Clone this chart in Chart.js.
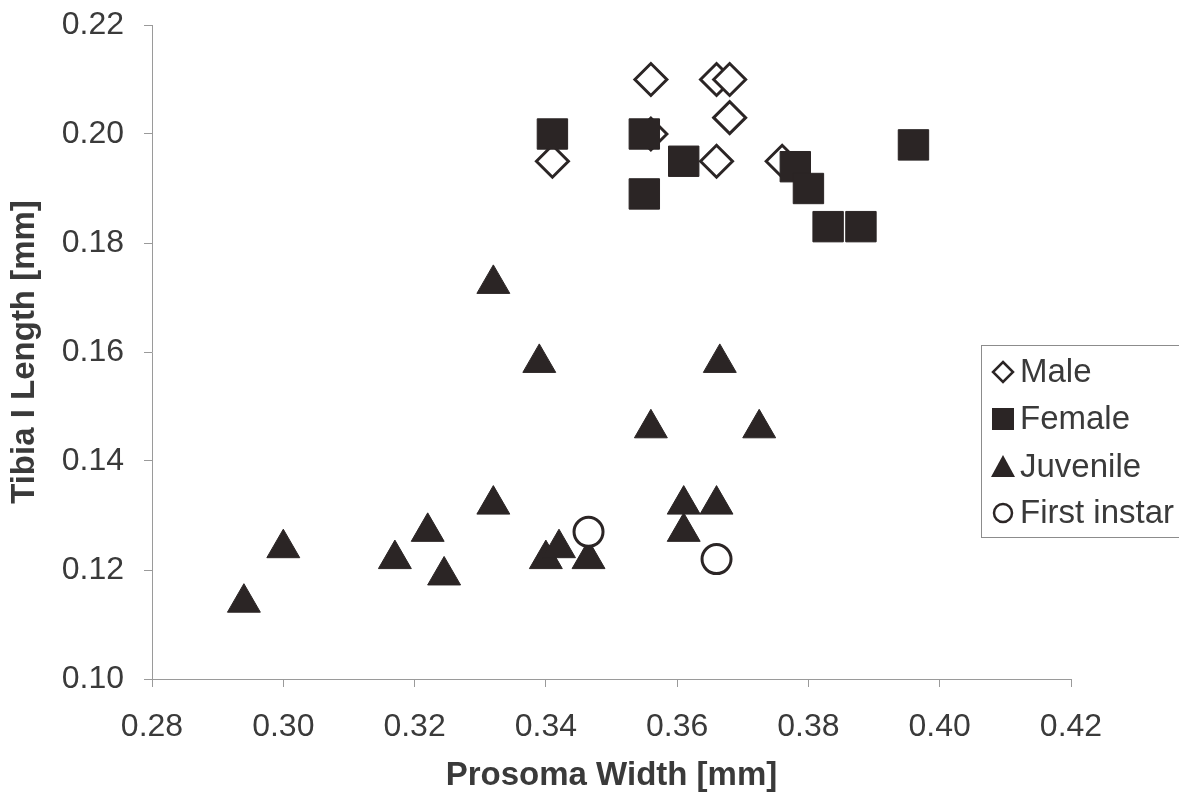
<!DOCTYPE html>
<html>
<head>
<meta charset="utf-8">
<title>Prosoma width vs tibia I length</title>
<script src="https://cdn.jsdelivr.net/npm/chart.js@4.4.0/dist/chart.umd.min.js"></script>
<style>
  html, body { margin: 0; padding: 0; background: #fff; }
  #wrap { width: 1179px; height: 801px; }
</style>
</head>
<body>
<div id="wrap"><canvas id="myChart" width="1179" height="801"></canvas></div>
<script>
// values (mm)
const maleX = [0.356, 0.366, 0.368, 0.368, 0.356, 0.341, 0.366, 0.376];
const maleY = [0.210, 0.210, 0.210, 0.203, 0.200, 0.195, 0.195, 0.195];

const femaleX = [0.341, 0.355, 0.361, 0.355, 0.378, 0.380, 0.383, 0.388, 0.396];
const femaleY = [0.200, 0.200, 0.195, 0.189, 0.194, 0.190, 0.183, 0.183, 0.198];

const juvenileX = [0.294, 0.300, 0.317, 0.322, 0.3245, 0.332, 0.332, 0.339, 0.340,
  0.342, 0.3465, 0.356, 0.361, 0.361, 0.366, 0.3665, 0.3725];
const juvenileY = [0.114, 0.124, 0.122, 0.127, 0.119, 0.1725, 0.132, 0.158, 0.122,
  0.124, 0.122, 0.146, 0.132, 0.127, 0.132, 0.158, 0.146];

const firstInstarX = [0.3465, 0.366];
const firstInstarY = [0.127, 0.122];

const seriesNames = ['Male', 'Female', 'Juvenile', 'First instar'];
const xTitle = 'Prosoma Width [mm]';
const yTitle = 'Tibia I Length [mm]';

const ink = '#2b2525';
const textColor = '#3a3a3a';
const axisColor = '#9a9a9a';
const fontFamily = '"Liberation Sans", Arial, sans-serif';

function toPoints(xs, ys) {
  return xs.map((x, i) => ({ x: x, y: ys[i] }));
}

// boxed legend sitting over the right side of the plot
const boxLegend = {
  id: 'boxLegend',
  afterDraw(chart) {
    const ctx = chart.ctx;
    const left = 981, top = 345, right = 1190, bottom = 537;
    ctx.save();
    ctx.fillStyle = '#fff';
    ctx.strokeStyle = '#8c8c8c';
    ctx.lineWidth = 1;
    ctx.fillRect(left, top, right - left, bottom - top);
    ctx.strokeRect(left + 0.5, top + 0.5, right - left, bottom - top);

    const rows = [372, 419, 467, 513];
    const mx = 1003;
    ctx.font = '33px ' + fontFamily;
    ctx.textBaseline = 'middle';
    ctx.fillStyle = textColor;
    seriesNames.forEach((name, i) => {
      const y = rows[i];
      ctx.beginPath();
      if (i === 0) {
        ctx.moveTo(mx, y - 10); ctx.lineTo(mx + 10, y); ctx.lineTo(mx, y + 10); ctx.lineTo(mx - 10, y);
        ctx.closePath();
        ctx.fillStyle = '#fff'; ctx.fill();
        ctx.strokeStyle = ink; ctx.lineWidth = 2.5; ctx.stroke();
      } else if (i === 1) {
        ctx.fillStyle = ink;
        ctx.fillRect(mx - 11, y - 11, 22, 22);
      } else if (i === 2) {
        ctx.moveTo(mx, y - 12); ctx.lineTo(mx + 12, y + 10); ctx.lineTo(mx - 12, y + 10);
        ctx.closePath();
        ctx.fillStyle = ink; ctx.fill();
      } else {
        ctx.arc(mx, y, 9, 0, Math.PI * 2);
        ctx.fillStyle = '#fff'; ctx.fill();
        ctx.strokeStyle = ink; ctx.lineWidth = 2.5; ctx.stroke();
      }
      ctx.fillStyle = textColor;
      ctx.fillText(name, 1020, y + 1);
    });
    ctx.restore();
  }
};

const ctx = document.getElementById('myChart').getContext('2d');
new Chart(ctx, {
  type: 'scatter',
  data: {
    datasets: [
      {
        label: seriesNames[0],
        data: toPoints(maleX, maleY),
        pointStyle: 'rectRot',
        pointRadius: 16,
        backgroundColor: '#fff',
        borderColor: ink,
        borderWidth: 3,
        order: 4
      },
      {
        label: seriesNames[1],
        data: toPoints(femaleX, femaleY),
        pointStyle: 'rect',
        pointRadius: 21.5,
        backgroundColor: ink,
        borderColor: ink,
        borderWidth: 1,
        order: 3
      },
      {
        label: seriesNames[2],
        data: toPoints(juvenileX, juvenileY),
        pointStyle: 'triangle',
        pointRadius: 19,
        backgroundColor: ink,
        borderColor: ink,
        borderWidth: 1,
        order: 2
      },
      {
        label: seriesNames[3],
        data: toPoints(firstInstarX, firstInstarY),
        pointStyle: 'circle',
        pointRadius: 14.5,
        backgroundColor: '#fff',
        borderColor: ink,
        borderWidth: 3,
        order: 1
      }
    ]
  },
  options: {
    responsive: false,
    animation: false,
    events: [],
    layout: { padding: { left: 0, right: 108, top: 25, bottom: 0 } },
    plugins: {
      legend: { display: false },
      tooltip: { enabled: false }
    },
    scales: {
      x: {
        type: 'linear',
        min: 0.28,
        max: 0.42,
        afterFit(scale) {
          scale.height = 122;
          scale.paddingLeft = 0;
          scale.paddingRight = 0;
        },
        ticks: {
          stepSize: 0.02,
          padding: 21,
          color: textColor,
          font: { family: fontFamily, size: 32 },
          callback: (v) => v.toFixed(2)
        },
        grid: {
          display: true,
          drawOnChartArea: false,
          drawTicks: true,
          tickLength: 8,
          color: axisColor
        },
        border: { display: true, color: axisColor, width: 1 },
        title: {
          display: true,
          text: xTitle,
          color: textColor,
          font: { family: fontFamily, size: 33, weight: 'bold' },
          padding: { top: 0, bottom: 5 }
        }
      },
      y: {
        type: 'linear',
        min: 0.10,
        max: 0.22,
        afterFit(scale) {
          scale.width = 152;
          scale.paddingTop = 0;
          scale.paddingBottom = 0;
        },
        ticks: {
          stepSize: 0.02,
          padding: 20,
          color: textColor,
          font: { family: fontFamily, size: 32 },
          callback: (v) => v.toFixed(2)
        },
        grid: {
          display: true,
          drawOnChartArea: false,
          drawTicks: true,
          tickLength: 8,
          color: axisColor
        },
        border: { display: true, color: axisColor, width: 1 },
        title: {
          display: true,
          text: yTitle,
          color: textColor,
          font: { family: fontFamily, size: 33, weight: 'bold' },
          padding: { top: 5, bottom: 0 }
        }
      }
    }
  },
  plugins: [boxLegend]
});
</script>
</body>
</html>
